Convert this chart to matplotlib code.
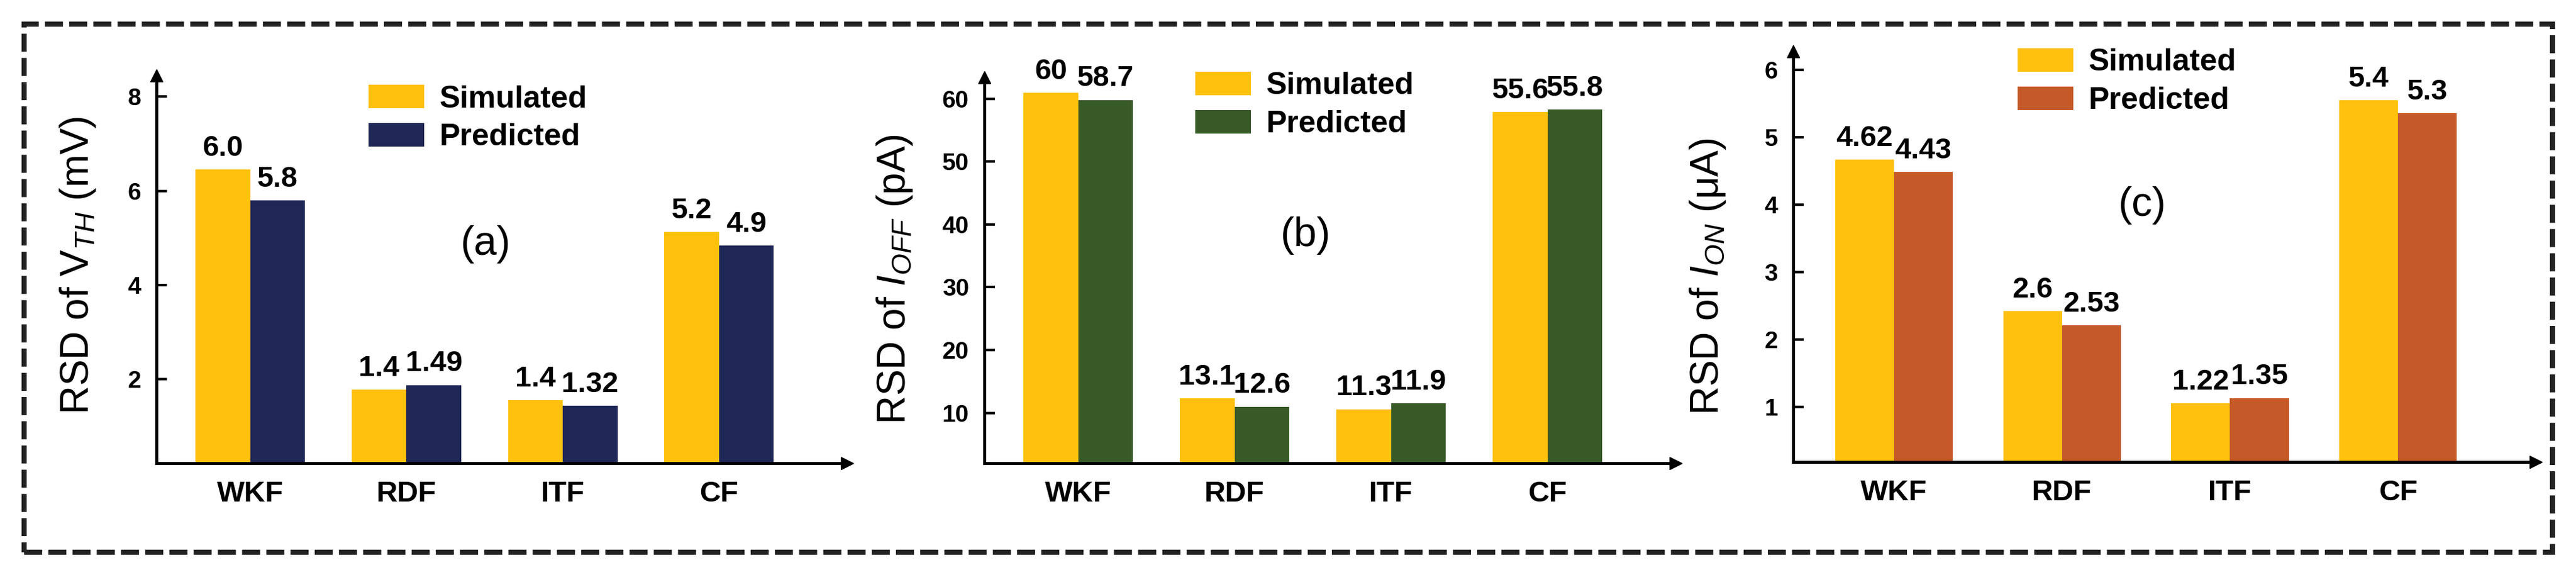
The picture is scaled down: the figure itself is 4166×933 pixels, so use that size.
import matplotlib
matplotlib.use("Agg")
import matplotlib.pyplot as plt
from matplotlib.patches import Rectangle, Patch
import numpy as np

plt.rcParams['font.family'] = ['Liberation Sans', 'DejaVu Sans']
plt.rcParams['mathtext.fontset'] = 'custom'
plt.rcParams['mathtext.rm'] = 'Liberation Sans'
plt.rcParams['mathtext.it'] = 'Liberation Sans:italic'
plt.rcParams['mathtext.bf'] = 'Liberation Sans:bold'

# ---------------- data ----------------
categories = ["WKF", "RDF", "ITF", "CF"]
series_names = ["Simulated", "Predicted"]

# (a) RSD of V_TH (mV)
vth_sim = [6.45, 1.78, 1.56, 5.13]
vth_pred = [5.80, 1.88, 1.44, 4.84]
vth_sim_labels = ["6.0", "1.4", "1.4", "5.2"]
vth_pred_labels = ["5.8", "1.49", "1.32", "4.9"]
vth_ticks = [2, 4, 6, 8]

# (b) RSD of I_OFF (pA)
ioff_sim = [60.9, 12.3, 10.6, 57.9]
ioff_pred = [59.8, 11.0, 11.5, 58.3]
ioff_sim_labels = ["60", "13.1", "11.3", "55.6"]
ioff_pred_labels = ["58.7", "12.6", "11.9", "55.8"]
ioff_ticks = [10, 20, 30, 40, 50, 60]

# (c) RSD of I_ON (uA)
ion_sim = [4.67, 2.42, 1.05, 5.55]
ion_pred = [4.49, 2.21, 1.13, 5.36]
ion_sim_labels = ["4.62", "2.6", "1.22", "5.4"]
ion_pred_labels = ["4.43", "2.53", "1.35", "5.3"]
ion_ticks = [1, 2, 3, 4, 5, 6]

# ---------------- style ----------------
W, H = 4166, 933
DPI = 100
YELLOW = "#FFC10E"
colors_pred = ["#1F2757", "#375A27", "#C55A28"]

fig = plt.figure(figsize=(W / DPI, H / DPI), dpi=DPI)

panels = [
    dict(sim=vth_sim, pred=vth_pred, sl=vth_sim_labels, pl=vth_pred_labels,
         ticks=vth_ticks, ylim=(0.22, 8.45), rect=(253, 749, 1370, 122),
         ylabel="RSD of V$_{TH}$ (mV)", ylab_pos=(126, 429),
         leg=(596, 137), tag="(a)", tag_pos=(786, 395), color=colors_pred[0]),
    dict(sim=ioff_sim, pred=ioff_pred, sl=ioff_sim_labels, pl=ioff_pred_labels,
         ticks=ioff_ticks, ylim=(2.0, 63.4), rect=(1592, 749, 2710, 125),
         ylabel="RSD of $I_{OFF}$ (pA)", ylab_pos=(1447, 452),
         leg=(1933, 116), tag="(b)", tag_pos=(2112, 381), color=colors_pred[1]),
    dict(sim=ion_sim, pred=ion_pred, sl=ion_sim_labels, pl=ion_pred_labels,
         ticks=ion_ticks, ylim=(0.18, 6.28), rect=(2900, 747, 4101, 83),
         ylabel="RSD of $I_{ON}$ (μA)", ylab_pos=(2762, 447),
         leg=(3263, 78), tag="(c)", tag_pos=(3465, 332), color=colors_pred[2]),
]

x = np.arange(len(categories))
bw = 0.35

for p in panels:
    x0, yb, x1, yt = p["rect"]
    ax = fig.add_axes([x0 / W, (H - yb) / H, (x1 - x0) / W, (yb - yt) / H])
    ax.bar(x - bw / 2, p["sim"], bw, color=YELLOW, bottom=0, zorder=2)
    ax.bar(x + bw / 2, p["pred"], bw, color=p["color"], zorder=2)
    for xi, v, s in zip(x - bw / 2, p["sim"], p["sl"]):
        ax.annotate(s, (xi, v), xytext=(0, 16), textcoords="offset points",
                    ha="center", va="baseline", fontsize=34, fontweight="bold")
    for xi, v, s in zip(x + bw / 2, p["pred"], p["pl"]):
        ax.annotate(s, (xi, v), xytext=(0, 16), textcoords="offset points",
                    ha="center", va="baseline", fontsize=34, fontweight="bold")
    ax.set_xlim(-0.6, 3.82)
    ax.set_ylim(*p["ylim"])
    ax.set_xticks(x)
    ax.set_xticklabels(categories, fontsize=34, fontweight="bold")
    ax.set_yticks(p["ticks"])
    ax.set_yticklabels([str(t) for t in p["ticks"]], fontsize=28, fontweight="bold")
    ax.tick_params(axis="x", length=0, pad=20)
    ax.tick_params(axis="y", direction="in", length=12, width=3, pad=18)
    for s in ["top", "right"]:
        ax.spines[s].set_visible(False)
    for s in ["left", "bottom"]:
        ax.spines[s].set_linewidth(3.5)
    ax.patch.set_alpha(0)
    # arrow heads
    ax.plot([0], [1], marker="^", ms=15, color="k", transform=ax.transAxes,
            clip_on=False, zorder=5)
    ax.plot([1], [0], marker=">", ms=15, color="k", transform=ax.transAxes,
            clip_on=False, zorder=5)
    # legend
    handles = [Patch(facecolor=YELLOW), Patch(facecolor=p["color"])]
    fig.legend(handles, series_names, loc="upper left",
               bbox_to_anchor=(p["leg"][0] / W, 1 - p["leg"][1] / H),
               frameon=False, prop={"weight": "bold", "size": 36},
               handlelength=1.8, handleheight=0.8, handletextpad=0.5,
               labelspacing=0.3, borderpad=0, borderaxespad=0)
    # ylabel
    fig.text(p["ylab_pos"][0] / W, 1 - p["ylab_pos"][1] / H, p["ylabel"],
             rotation=90, ha="center", va="center", fontsize=46)
    # panel tag
    fig.text(p["tag_pos"][0] / W, 1 - p["tag_pos"][1] / H, p["tag"],
             ha="center", va="center", fontsize=48)

# dashed frame
frame = Rectangle((39 / W, 40 / H), (4128 - 39) / W, (893 - 39) / H,
                  transform=fig.transFigure, fill=False, edgecolor="#222222",
                  linewidth=6, linestyle=(0, (3.5, 1.2)))
fig.add_artist(frame)

fig.savefig("out.png", dpi=DPI)
